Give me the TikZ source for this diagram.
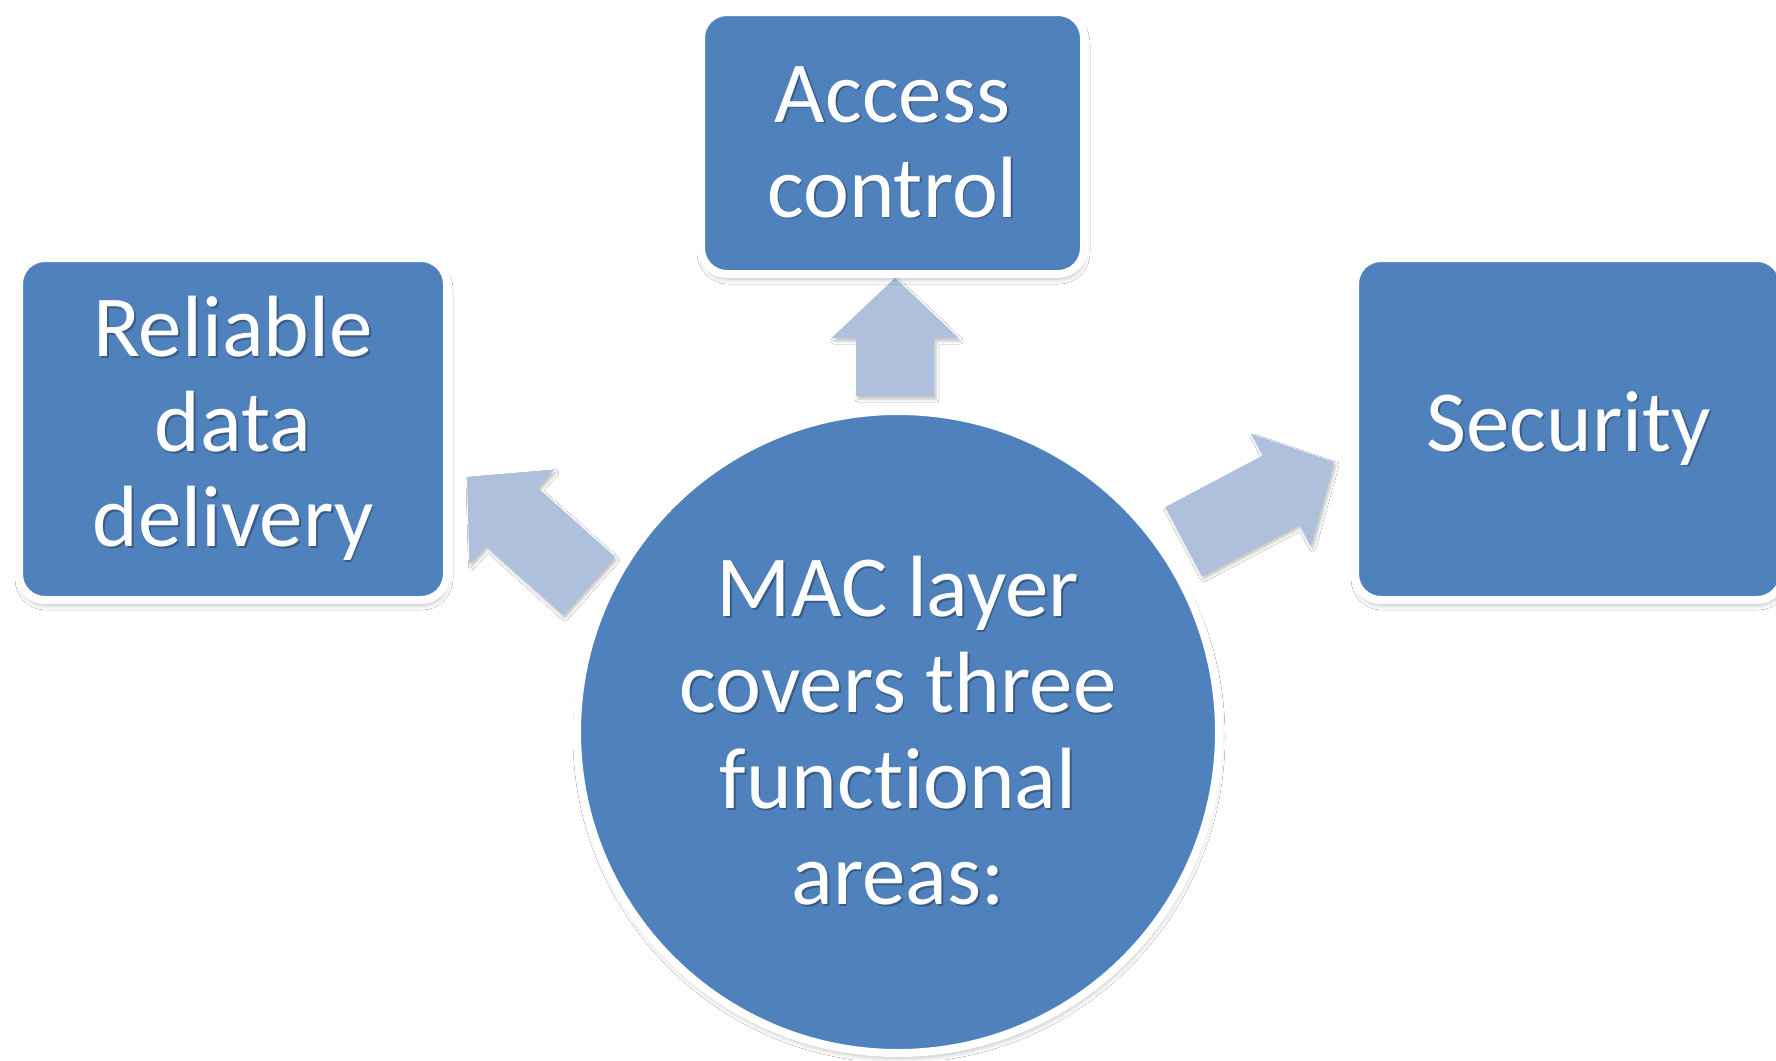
\documentclass[tikz,border=0pt]{standalone}
\usepackage{fontspec}
\setmainfont{Carlito}[Ligatures={NoCommon}]
\usetikzlibrary{calc,shadows,shadows.blur}
\definecolor{boxblue}{HTML}{4F81BD}
\definecolor{arrowblue}{HTML}{AFC0DC}
\colorlet{txtshadow}{boxblue!72!black}
\newcommand\sh[1]{\makebox[0pt][l]{\hspace{1.8pt}\raisebox{-1.8pt}{\textcolor{txtshadow}{#1}}}#1}
\newcommand\blockarrow[2]{%
  \fill[arrowfill]
    ($(#1)!39pt!90:(#2)$) --
    ($(#2)!60pt!(#1)!39pt!-90:(#1)$) --
    ($(#2)!60pt!(#1)!63.5pt!-90:(#1)$) --
    (#2) --
    ($(#2)!60pt!(#1)!63.5pt!90:(#1)$) --
    ($(#2)!60pt!(#1)!39pt!90:(#1)$) --
    ($(#1)!39pt!-90:(#2)$) -- cycle;}
\begin{document}
\begin{tikzpicture}[x=1pt,y=-1pt,
  shade/.style={blur shadow={shadow xshift=1pt, shadow yshift=-5pt, shadow blur radius=5pt, shadow opacity=28}},
  box/.style={rectangle, rounded corners=26pt, fill=boxblue, draw=white, line width=8pt,
    inner sep=0pt, text=white, align=center, font=\fontsize{87}{95}\selectfont, shade},
  hub/.style={circle, fill=boxblue, draw=white, line width=8pt, inner sep=0pt,
    minimum size=642pt, text=white, align=center, font=\fontsize{87}{96}\selectfont, shade},
  arrowfill/.style={fill=arrowblue, blur shadow={shadow xshift=2pt, shadow yshift=-3pt, shadow blur radius=3pt, shadow opacity=25}}]
\fill[white] (0,0) rectangle (1776,1060);
\useasboundingbox (0,0) rectangle (1776,1060);

% arrow end points
\coordinate (upS) at (895,396);
\coordinate (upT) at (895,278);
\coordinate (lfS) at (589,586);
\coordinate (lfT) at (467,477);
\coordinate (rtS) at (1183.5,541.5);
\coordinate (rtT) at (1334,462);

\blockarrow{upS}{upT}
\blockarrow{lfS}{lfT}
\blockarrow{rtS}{rtT}

\node[box, minimum width=383pt, minimum height=262pt] (access) at (892.5,143) {\sh{Access}\\\sh{control}};
\node[box, minimum width=428pt, minimum height=342pt] (reliable) at (233,429) {\sh{Reliable}\\\sh{data}\\\sh{delivery}};
\node[box, minimum width=428pt, minimum height=342pt] (security) at (1569,429) {\sh{Security}};
\node[hub] (mac) at (898,732) {\sh{MAC layer}\\\sh{covers three}\\\sh{functional}\\\sh{areas:}};
\end{tikzpicture}
\end{document}
